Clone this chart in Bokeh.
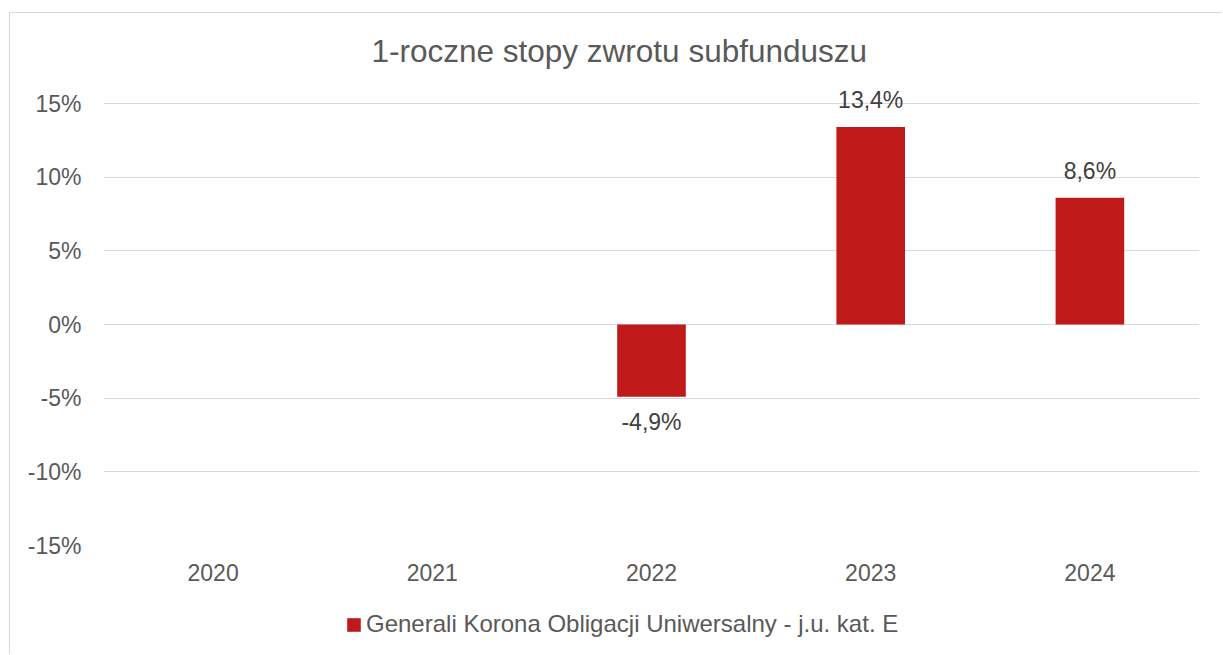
from bokeh.plotting import figure
from bokeh.layouts import column
from bokeh.models import ColumnDataSource, FixedTicker, Legend, LegendItem
from bokeh.embed import file_html
from bokeh.resources import INLINE
from bokeh.core.properties import value

# ---- data ----
years = ["2020", "2021", "2022", "2023", "2024"]
returns = [None, None, -4.9, 13.4, 8.6]
return_labels = ["", "", "-4,9%", "13,4%", "8,6%"]
y_ticks = [-15, -10, -5, 0, 5, 10, 15]
y_tick_labels = ["-15%", "-10%", "-5%", "0%", "5%", "10%", "15%"]
series_name = "Generali Korona Obligacji Uniwersalny - j.u. kat. E"
chart_title = "1-roczne stopy zwrotu subfunduszu"

FONT = "Liberation Sans"
BAR_COLOR = "#C0191A"
GRID = "#D9D9D9"
TXT = "#595959"

bar_vals = [float("nan") if v is None else v for v in returns]
src = ColumnDataSource(dict(x=years, top=bar_vals))
pos = [i for i, v in enumerate(returns) if v is not None and v >= 0]
neg = [i for i, v in enumerate(returns) if v is not None and v < 0]
pos_src = ColumnDataSource(dict(x=[years[i] for i in pos], y=[returns[i] for i in pos],
                                t=[return_labels[i] for i in pos]))
neg_src = ColumnDataSource(dict(x=[years[i] for i in neg], y=[returns[i] for i in neg],
                                t=[return_labels[i] for i in neg]))

# frame extends a little above the 15% line so the top value label is not clipped
p = figure(x_range=years, y_range=(-15, 16.97), width=1213, height=582,
           output_backend="svg", toolbar_location=None,
           min_border_left=93, min_border_right=24, min_border_top=61, min_border_bottom=50)
p.styles = {"border-left": "1px solid #D9D9D9", "border-top": "1px solid #D9D9D9",
            "margin-top": "12px", "margin-left": "9px"}
p.outline_line_color = None
p.background_fill_color = "white"
p.border_fill_color = "white"

bars = p.vbar(x="x", top="top", bottom=0, width=0.313, source=src,
              fill_color=BAR_COLOR, line_color=None)

p.text(x="x", y="y", text="t", source=pos_src, text_align="center",
       text_baseline="alphabetic", y_offset=-27, text_font=value(FONT),
       text_font_size="23px", text_color="#404040")
p.text(x="x", y="y", text="t", source=neg_src, text_align="center",
       text_baseline="alphabetic", y_offset=25, text_font=value(FONT),
       text_font_size="23px", text_color="#404040")

# title
p.title.text = chart_title
p.title.align = "left"
p.title.offset = 268
p.title.standoff = 12
p.title.text_font = FONT
p.title.text_font_size = "31.5px"
p.title.text_font_style = "normal"
p.title.text_color = TXT

# axes
p.yaxis.ticker = FixedTicker(ticks=y_ticks)
p.yaxis.major_label_overrides = {t: l for t, l in zip(y_ticks, y_tick_labels)}
for ax in (p.xaxis[0], p.yaxis[0]):
    ax.axis_line_color = None
    ax.major_tick_line_color = None
    ax.minor_tick_line_color = None
    ax.major_label_text_font = FONT
    ax.major_label_text_font_size = "23px"
    ax.major_label_text_color = TXT
p.yaxis.major_label_standoff = 16
p.xaxis.major_label_standoff = 12

p.xgrid.grid_line_color = None
p.ygrid.grid_line_color = GRID
p.ygrid.grid_line_width = 1

# legend strip below the chart
lg = figure(width=1213, height=60, x_range=(0, 1), y_range=(0, 1),
            output_backend="svg", toolbar_location=None,
            min_border_left=0, min_border_right=0, min_border_top=0, min_border_bottom=0)
lg.styles = {"border-left": "1px solid #D9D9D9", "margin-left": "9px"}
lg.axis.visible = False
lg.grid.grid_line_color = None
lg.outline_line_color = None
lg.border_fill_color = "white"
dummy = lg.vbar(x=[-5], top=[0], bottom=[0], width=0.01,
                fill_color=BAR_COLOR, line_color=None)

legend = Legend(items=[LegendItem(label=series_name, renderers=[dummy])],
                location=(242, 16), orientation="horizontal",
                padding=0, margin=0, spacing=0, border_line_color=None,
                background_fill_alpha=0, glyph_width=17, glyph_height=17,
                label_standoff=4, label_text_font=FONT, label_text_font_size="24px",
                label_text_color=TXT)
lg.add_layout(legend, "center")

layout = column(p, lg, spacing=0)
open("out.html", "w").write(file_html(layout, INLINE))
